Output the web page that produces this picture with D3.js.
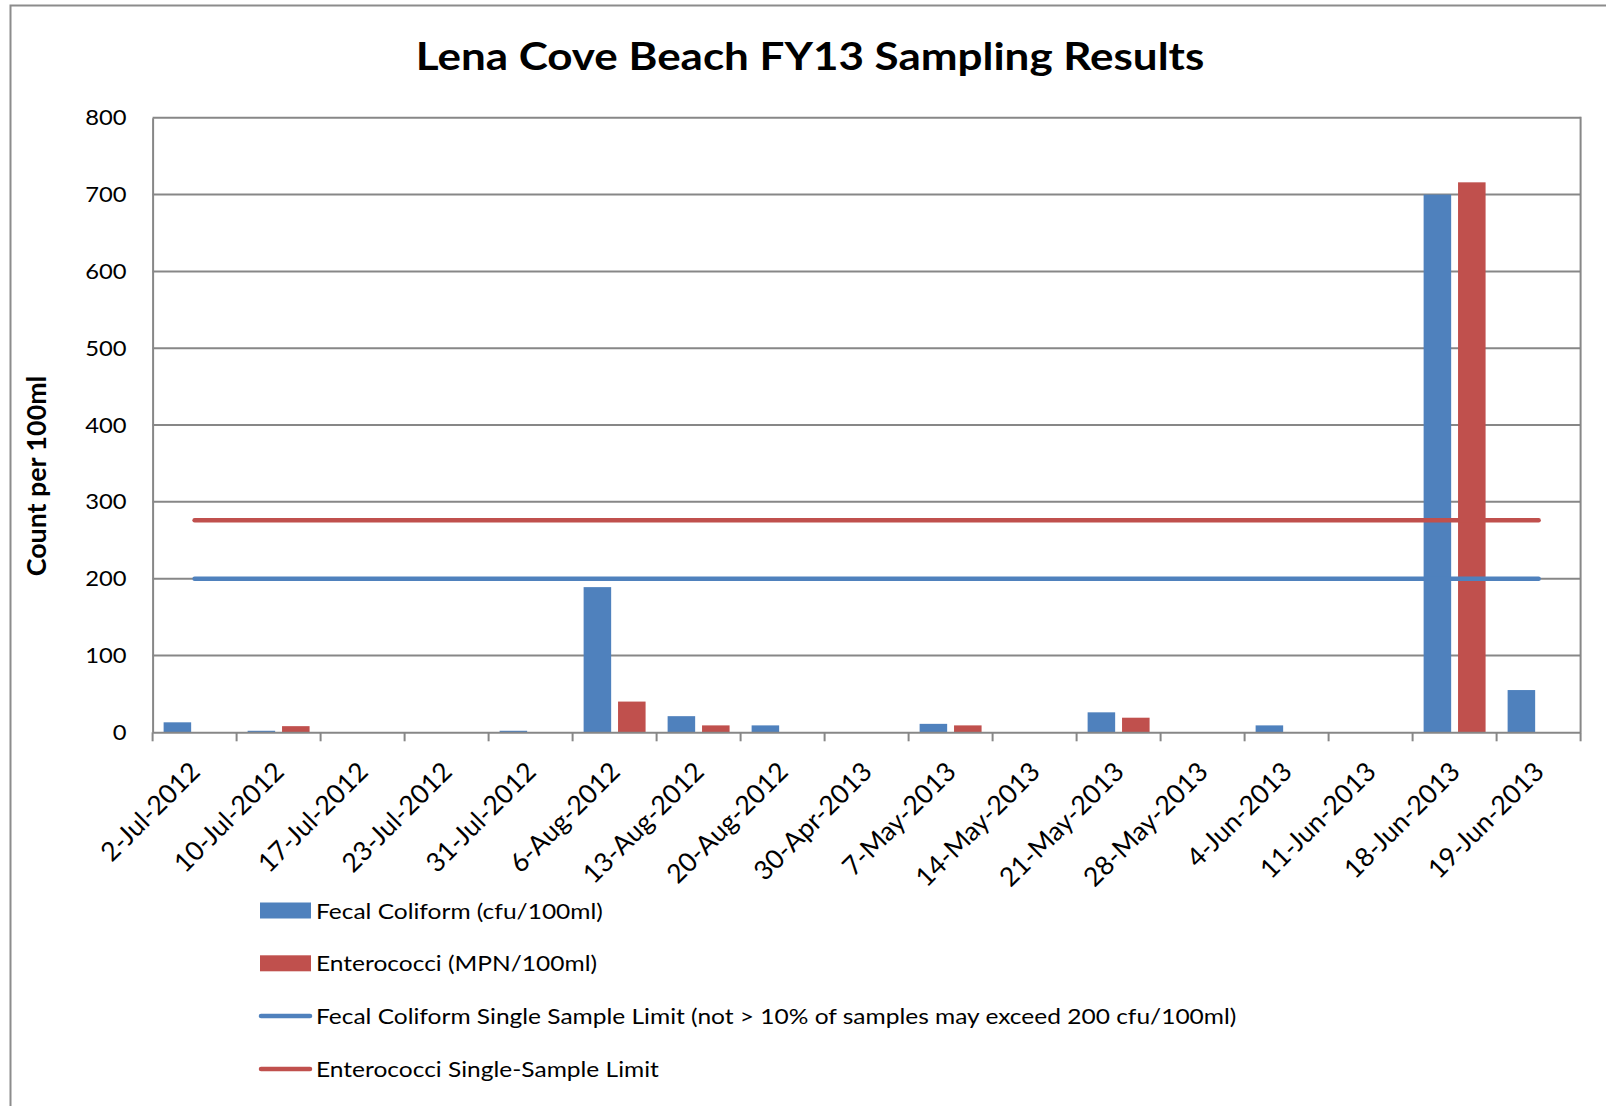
<!DOCTYPE html>
<html>
<head>
<meta charset="utf-8">
<script src="https://cdn.jsdelivr.net/npm/d3@7"></script>
<style>
  body { margin: 0; background: #fff; }
  svg { display: block; }
</style>
</head>
<body>
<div id="chart"></div>
<script>
// Sampling dates (categories)
const dates = [
  '2-Jul-2012', '10-Jul-2012', '17-Jul-2012', '23-Jul-2012', '31-Jul-2012',
  '6-Aug-2012', '13-Aug-2012', '20-Aug-2012', '30-Apr-2013', '7-May-2013',
  '14-May-2013', '21-May-2013', '28-May-2013', '4-Jun-2013', '11-Jun-2013',
  '18-Jun-2013', '19-Jun-2013'
];

// Results (null = no bar shown)
const fecalColiform = [13, 2, null, null, 2, 189, 21, 9, null, 11, null, 26, null, 9, null, 700, 55];
const enterococci = [null, 8, null, null, null, 40, 9, null, null, 9, null, 19, null, null, null, 716, null];

// Single-sample limits
const fecalLimit = 200;
const enteroLimit = 276;

const yTicks = [0, 100, 200, 300, 400, 500, 600, 700, 800];

const legendLabels = [
  'Fecal Coliform (cfu/100ml)',
  'Enterococci (MPN/100ml)',
  'Fecal Coliform Single Sample Limit (not > 10% of samples may exceed 200 cfu/100ml)',
  'Enterococci Single-Sample Limit'
];

const BLUE = '#4f81bd';
const RED = '#c0504d';
const GRID = '#878787';
const FONT = 'Lato, "Open Sans", sans-serif';

function drawChart() {
  const W = 1606, H = 1106;
  const plot = { left: 152.6, right: 1580.6, top: 117.8, bottom: 732.3 };

  const svg = d3
    .select('#chart')
    .append('svg')
    .attr('width', W)
    .attr('height', H)
    .style('font-family', FONT);

  // Outer chart frame
  svg
    .append('rect')
    .attr('x', 10.5)
    .attr('y', 5.5)
    .attr('width', W + 20)
    .attr('height', H + 20)
    .attr('fill', '#fff')
    .attr('stroke', '#8c8c8c')
    .attr('stroke-width', 2);

  // Scales
  const x = d3.scaleBand().domain(dates).range([plot.left, plot.right]);
  const xSub = d3
    .scaleBand()
    .domain(['fecal', 'entero'])
    .range([0, x.bandwidth()])
    .paddingInner(0.2)
    .paddingOuter(0.32);
  const y = d3.scaleLinear().domain([0, 800]).range([plot.bottom, plot.top]);

  // Gridlines
  svg
    .append('g')
    .selectAll('line')
    .data(yTicks.filter((d) => d > 0))
    .join('line')
    .attr('x1', plot.left)
    .attr('x2', plot.right)
    .attr('y1', (d) => y(d))
    .attr('y2', (d) => y(d))
    .attr('stroke', GRID)
    .attr('stroke-width', 2);

  // Right border of plot area
  svg
    .append('line')
    .attr('x1', plot.right)
    .attr('x2', plot.right)
    .attr('y1', plot.top - 1)
    .attr('y2', plot.bottom)
    .attr('stroke', GRID)
    .attr('stroke-width', 2);

  // Bars
  const rows = dates.map((d, i) => ({ date: d, fecal: fecalColiform[i], entero: enterococci[i] }));
  const groups = svg
    .append('g')
    .selectAll('g')
    .data(rows)
    .join('g')
    .attr('transform', (d) => `translate(${x(d.date)},0)`);

  groups
    .selectAll('rect')
    .data((d) => [
      { key: 'fecal', value: d.fecal },
      { key: 'entero', value: d.entero }
    ].filter((v) => v.value != null))
    .join('rect')
    .attr('x', (d) => xSub(d.key))
    .attr('width', xSub.bandwidth())
    .attr('y', (d) => y(d.value))
    .attr('height', (d) => y(0) - y(d.value))
    .attr('fill', (d) => (d.key === 'fecal' ? BLUE : RED));

  // Y axis (labels are a little wide in the original, so stretch them)
  const yAxis = svg
    .append('g')
    .attr('transform', `translate(${plot.left},0)`)
    .call(d3.axisLeft(y).tickValues(yTicks).tickSize(0).tickPadding(0));
  yAxis.select('.domain').attr('stroke', GRID).attr('stroke-width', 2);
  yAxis
    .selectAll('text')
    .attr('x', -26 / 1.08)
    .attr('transform', 'scale(1.08,1)')
    .style('font-family', FONT)
    .style('font-size', '22px')
    .attr('fill', '#000');

  // X axis
  const xAxis = svg
    .append('g')
    .attr('transform', `translate(0,${plot.bottom})`)
    .call(d3.axisBottom(x).tickSize(0).tickPadding(0));
  xAxis.select('.domain').attr('stroke', GRID).attr('stroke-width', 2);
  xAxis
    .selectAll('text')
    .attr('y', null)
    .attr('dy', null)
    .attr('text-anchor', 'end')
    .attr('transform', 'translate(7,41) rotate(-45)')
    .style('font-family', FONT)
    .style('font-size', '26.5px')
    .attr('fill', '#000');

  // Tick marks between categories
  svg
    .append('g')
    .selectAll('line')
    .data(dates.map((d) => x(d)).concat([plot.right]))
    .join('line')
    .attr('x1', (d) => d)
    .attr('x2', (d) => d)
    .attr('y1', plot.bottom)
    .attr('y2', plot.bottom + 9)
    .attr('stroke', GRID)
    .attr('stroke-width', 2);

  // Limit lines
  const limitLine = (limit) =>
    d3
      .line()
      .x((d) => x(d) + x.bandwidth() / 2)
      .y(() => y(limit));

  svg
    .append('path')
    .datum(dates)
    .attr('fill', 'none')
    .attr('stroke', BLUE)
    .attr('stroke-width', 4.5)
    .attr('stroke-linecap', 'round')
    .attr('d', limitLine(fecalLimit));

  svg
    .append('path')
    .datum(dates)
    .attr('fill', 'none')
    .attr('stroke', RED)
    .attr('stroke-width', 4.5)
    .attr('stroke-linecap', 'round')
    .attr('d', limitLine(enteroLimit));

  // Title
  svg
    .append('text')
    .attr('transform', 'translate(810,70) scale(1.157,1)')
    .attr('text-anchor', 'middle')
    .style('font-size', '38px')
    .style('font-weight', 'bold')
    .text('Lena Cove Beach FY13 Sampling Results');

  // Y axis label
  svg
    .append('text')
    .attr('transform', `translate(46,476) rotate(-90)`)
    .attr('text-anchor', 'middle')
    .style('font-size', '26.8px')
    .style('font-weight', 'bold')
    .text('Count per 100ml');

  // Legend
  const legend = svg
    .append('g')
    .selectAll('g')
    .data(legendLabels)
    .join('g')
    .attr('transform', (d, i) => `translate(260,${910.5 + i * 52.8})`);

  legend
    .filter((d, i) => i < 2)
    .append('rect')
    .attr('x', 0)
    .attr('y', -8)
    .attr('width', 51)
    .attr('height', 16)
    .attr('fill', (d, i) => (i === 0 ? BLUE : RED));

  legend
    .filter((d, i) => i >= 2)
    .append('line')
    .attr('x1', 1)
    .attr('x2', 50)
    .attr('stroke', (d, i) => (i === 0 ? BLUE : RED))
    .attr('stroke-width', 4.5)
    .attr('stroke-linecap', 'round');

  legend
    .append('text')
    .attr('transform', 'translate(56,8) scale(1.115,1)')
    .style('font-size', '22px')
    .text((d) => d);
}

drawChart();
</script>
</body>
</html>
